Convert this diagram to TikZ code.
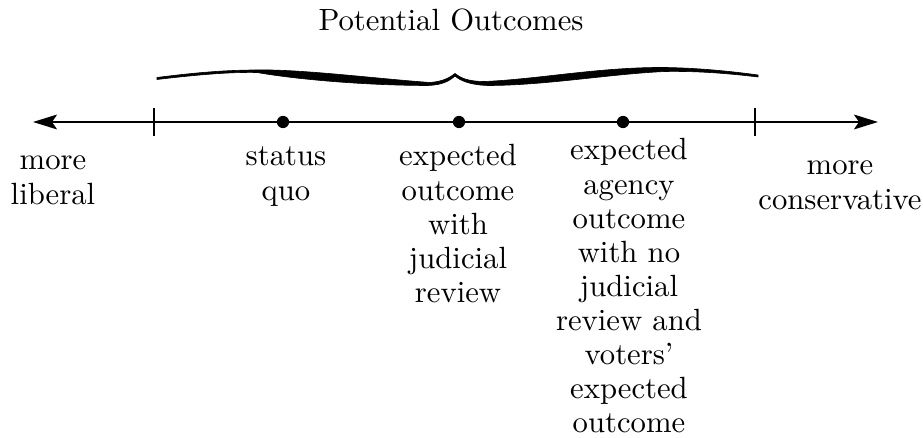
\documentclass[tikz,border=0pt]{standalone}
\usetikzlibrary{arrows.meta}
\newcommand\colstack[1]{\begin{tabular}[t]{@{}c@{}}#1\end{tabular}}
\renewcommand{\arraystretch}{1}
\begin{document}
\begin{tikzpicture}[x=0.3257pt,y=-0.3257pt,
  lbl/.style={inner sep=0pt, anchor=base, font=\fontsize{10}{11.1}\selectfont},
  dotnode/.style={circle, fill=black, inner sep=0pt, minimum size=4pt},
  axisline/.style={line width=0.65pt, {Stealth[length=7.8pt,width=4.8pt,inset=1.6pt]}-{Stealth[length=7.8pt,width=4.8pt,inset=1.6pt]}},
  tickline/.style={line width=0.8pt},
  bracefill/.style={fill=black, draw=black, line width=0.2pt}]
\useasboundingbox (0,0) rectangle (923,438);

% title
\node[lbl] (title) at (451,31) {Potential Outcomes};

% brace
\path[bracefill]
  (157,77.5) .. controls (200,72) and (230,70) .. (257,70)
  .. controls (300,69) and (380,79) .. (430,82.5)
  .. controls (443,81.5) and (450,77.5) .. (455,73.5)
  .. controls (460,77.5) and (467,81.5) .. (485,81.5)
  .. controls (540,79) and (600,67) .. (665,67.5)
  .. controls (695,68) and (725,70.5) .. (758,75)
  -- (758,77)
  .. controls (725,73) and (695,71) .. (665,71.5)
  .. controls (610,74) and (545,85.5) .. (488,85.5)
  .. controls (470,85) and (460,80.5) .. (455,76)
  .. controls (450,80.5) and (443,85) .. (428,85.5)
  .. controls (370,85.5) and (300,80) .. (257,72.5)
  .. controls (230,72) and (200,74.5) .. (157,79.5) -- cycle;

% axis
\coordinate (L) at (33,122);
\coordinate (R) at (878,122);
\draw[axisline] (L) -- (R);

% ticks
\coordinate (tl) at (154,122);
\coordinate (tr) at (755,122);
\draw[tickline] ([yshift=-4.4pt]tl) -- ([yshift=4.6pt]tl);
\draw[tickline] ([yshift=-4.7pt]tr) -- ([yshift=4.6pt]tr);

% dots
\node[dotnode] (sq) at (283,122) {};
\node[dotnode] (jr) at (459,122) {};
\node[dotnode] (nr) at (623,122) {};

% labels
\node[lbl] (lib) at (53,170) {\colstack{more\\liberal}};
\node[lbl] (sqt) at (286,166) {\colstack{status\\quo}};
\node[lbl] (jrt) at (458,166) {\colstack{expected\\outcome\\with\\judicial\\review}};
\node[lbl] (nrt) at (629,160) {\colstack{expected\\agency\\outcome\\with no\\judicial\\review and\\voters'\\expected\\outcome}};
\node[lbl] (con) at (840,175) {\colstack{more\\conservative}};
\end{tikzpicture}
\end{document}
